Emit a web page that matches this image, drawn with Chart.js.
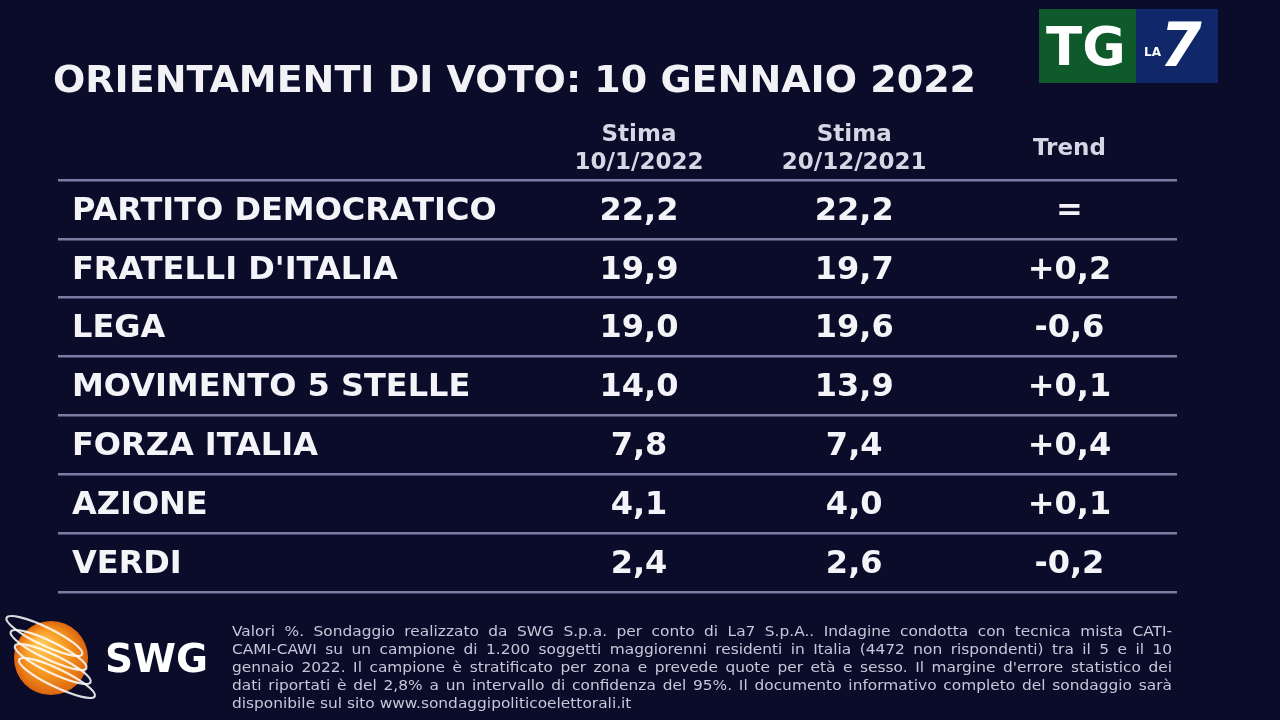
<!DOCTYPE html>
<html lang="it">
<head>
<meta charset="utf-8">
<title>Orientamenti di voto</title>
<script src="https://cdn.jsdelivr.net/npm/chart.js@4.4.1/dist/chart.umd.min.js"></script>
<style>
  html,body{margin:0;padding:0;background:#0b0b2a;}
  #wrap{width:1280px;height:720px;}
</style>
</head>
<body>
<div id="wrap"><canvas id="sondaggio" width="1280" height="720"></canvas></div>
<script>
const titolo = 'ORIENTAMENTI DI VOTO: 10 GENNAIO 2022';
const partiti = ['PARTITO DEMOCRATICO','FRATELLI D\'ITALIA','LEGA','MOVIMENTO 5 STELLE','FORZA ITALIA','AZIONE','VERDI'];
const stima10gen2022 = [22.2, 19.9, 19.0, 14.0, 7.8, 4.1, 2.4];
const stima20dic2021 = [22.2, 19.7, 19.6, 13.9, 7.4, 4.0, 2.6];
const trend = ['=', '+0,2', '-0,6', '+0,1', '+0,4', '+0,1', '-0,2'];
const intestazioni = [['Stima','10/1/2022'], ['Stima','20/12/2021'], ['Trend']];
const noteMetodo = [
  'Valori %. Sondaggio realizzato da SWG S.p.a. per conto di La7 S.p.A.. Indagine condotta con tecnica mista CATI-',
  'CAMI-CAWI su un campione di 1.200 soggetti maggiorenni residenti in Italia (4472 non rispondenti) tra il 5 e il 10',
  'gennaio 2022. Il campione è stratificato per zona e prevede quote per età e sesso. Il margine d\'errore statistico dei',
  'dati riportati è del 2,8% a un intervallo di confidenza del 95%. Il documento informativo completo del sondaggio sarà',
  'disponibile sul sito www.sondaggipoliticoelettorali.it'
];

const FONT = '"DejaVu Sans", Verdana, sans-serif';
const BG = '#0b0b2a';
const fmt = v => v.toFixed(1).replace('.', ',');
const colonne = [stima10gen2022.map(fmt), stima20dic2021.map(fmt), trend];

/* ---------- helpers di disegno ---------- */
// riga giustificata, con leggero allargamento orizzontale (il font originale è più largo)
function rigaNota(ctx, line, x, y, w, giustifica){
  const sx = 1.1;
  ctx.save();
  ctx.translate(x, y); ctx.scale(sx, 1);
  if (!giustifica) { ctx.fillText(line, 0, 0); ctx.restore(); return; }
  const words = line.split(' ');
  const nat = words.reduce((s, p) => s + ctx.measureText(p).width, 0);
  const gap = (w / sx - nat) / (words.length - 1);
  let cx = 0;
  words.forEach(p => { ctx.fillText(p, cx, 0); cx += ctx.measureText(p).width + gap; });
  ctx.restore();
}

function logoTG(ctx){
  ctx.fillStyle = '#0f5a2b'; ctx.fillRect(1039, 9, 97, 74);
  ctx.fillStyle = '#10286a'; ctx.fillRect(1136, 9, 82, 74);
  ctx.fillStyle = '#ffffff';
  ctx.textAlign = 'left'; ctx.textBaseline = 'alphabetic';
  ctx.font = `bold 53px ${FONT}`;
  ctx.fillText('TG', 1046, 65);
  ctx.font = `bold 12px ${FONT}`;
  ctx.fillText('LA', 1144, 56);
  ctx.font = `italic bold 60px ${FONT}`;
  ctx.fillText('7', 1160, 66);
}

function logoSWG(ctx){
  const cx = 51, cy = 658, r = 37;
  const g = ctx.createRadialGradient(cx - 10, cy - 14, 4, cx, cy, r);
  g.addColorStop(0, '#ffc451'); g.addColorStop(0.55, '#f7961f'); g.addColorStop(1, '#dc650f');
  ctx.fillStyle = g;
  ctx.beginPath(); ctx.arc(cx, cy, r, 0, Math.PI * 2); ctx.fill();
  ctx.strokeStyle = 'rgba(255,255,255,0.85)'; ctx.lineWidth = 2.2;
  [-22, -8, 6, 20].forEach(off => {
    ctx.beginPath();
    ctx.ellipse(cx + off * 0.3, cy + off, 42, 9, 0.45, 0, Math.PI * 2);
    ctx.stroke();
  });
  ctx.fillStyle = '#ffffff';
  ctx.font = `bold 39px ${FONT}`;
  ctx.textAlign = 'left'; ctx.textBaseline = 'alphabetic';
  ctx.fillText('SWG', 105, 672);
}

const tabellaPlugin = {
  id: 'tabella',
  beforeDraw(chart){
    const {ctx, width, height} = chart;
    ctx.save(); ctx.fillStyle = BG; ctx.fillRect(0, 0, width, height); ctx.restore();
  },
  afterDraw(chart){
    const {ctx, scales: {x, y}} = chart;
    ctx.save();
    // titolo
    ctx.fillStyle = '#f2f2f6';
    ctx.font = `bold 38px ${FONT}`;
    ctx.textAlign = 'left'; ctx.textBaseline = 'alphabetic';
    ctx.fillText(titolo, 53, 92);

    // intestazioni colonne
    ctx.fillStyle = '#d6d7e4';
    ctx.font = `bold 23px ${FONT}`;
    ctx.textAlign = 'center'; ctx.textBaseline = 'middle';
    intestazioni.forEach((h, c) => {
      const px = x.getPixelForValue(c);
      if (h.length === 1) ctx.fillText(h[0], px, 149);
      else { ctx.fillText(h[0], px, 135); ctx.fillText(h[1], px, 163); }
    });

    // celle
    ctx.fillStyle = '#f4f4f8';
    ctx.font = `bold 32px ${FONT}`;
    colonne.forEach((col, c) => {
      const px = x.getPixelForValue(c);
      col.forEach((v, i) => ctx.fillText(v, px, y.getPixelForValue(i) + 2));
    });

    // nota metodologica
    ctx.fillStyle = '#c6c7d8';
    ctx.font = `14px ${FONT}`;
    ctx.textAlign = 'left'; ctx.textBaseline = 'middle';
    noteMetodo.forEach((l, k) => rigaNota(ctx, l, 232, 632 + k * 18.2, 940, k < noteMetodo.length - 1));

    logoTG(ctx);
    logoSWG(ctx);
    ctx.restore();
  }
};

new Chart(document.getElementById('sondaggio').getContext('2d'), {
  type: 'scatter',
  data: {datasets: []},
  options: {
    responsive: false,
    animation: false,
    layout: {padding: {left: 30, right: 103, top: 180, bottom: 128}},
    plugins: {legend: {display: false}, tooltip: {enabled: false}},
    scales: {
      x: {type: 'linear', min: -2.70, max: 2.50, display: false},
      y: {
        type: 'category', labels: partiti, offset: true, position: 'left',
        grid: {offset: true, color: '#7a7ca3', lineWidth: 2.5, drawTicks: false},
        border: {display: false},
        ticks: {mirror: true, padding: 14, labelOffset: 2, color: '#f4f4f8', font: {family: FONT, size: 32, weight: 'bold'}}
      }
    }
  },
  plugins: [tabellaPlugin]
});
</script>
</body>
</html>
